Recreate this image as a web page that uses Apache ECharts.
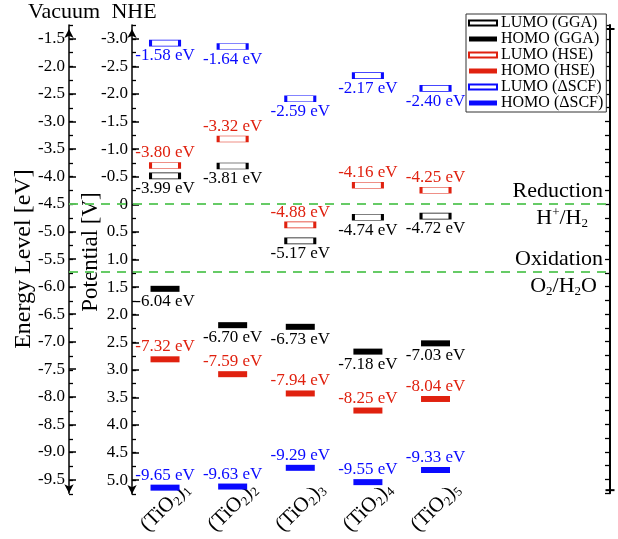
<!DOCTYPE html>
<html>
<head>
<meta charset="utf-8">
<script src="https://cdn.jsdelivr.net/npm/echarts@6/dist/echarts.min.js"></script>
<style>
  html, body { margin: 0; padding: 0; background: #fff; }
  #chart { width: 618px; height: 539px; }
</style>
</head>
<body>
<div id="chart"></div>
<script>
// Cluster sizes on the horizontal axis
const categories = ['(TiO2)1', '(TiO2)2', '(TiO2)3', '(TiO2)4', '(TiO2)5'];

// Frontier orbital energies vs. vacuum [eV]
const lumoGGA = [-3.99, -3.81, -5.17, -4.74, -4.72];
const homoGGA = [-6.04, -6.70, -6.73, -7.18, -7.03];
const lumoHSE = [-3.80, -3.32, -4.88, -4.16, -4.25];
const homoHSE = [-7.32, -7.59, -7.94, -8.25, -8.04];
const lumoSCF = [-1.58, -1.64, -2.59, -2.17, -2.40];
const homoSCF = [-9.65, -9.63, -9.29, -9.55, -9.33];

// Tick labels of the two left scales
const energyTicks = [-9.5, -9.0, -8.5, -8.0, -7.5, -7.0, -6.5, -6.0, -5.5, -5.0,
                     -4.5, -4.0, -3.5, -3.0, -2.5, -2.0, -1.5];
const nheTicks = [-3.0, -2.5, -2.0, -1.5, -1.0, -0.5, 0, 0.5, 1.0, 1.5, 2.0,
                  2.5, 3.0, 3.5, 4.0, 4.5, 5.0];

// Water redox potentials vs. NHE [V]
const redoxPotentials = [0, 1.23];
const redoxUpper = ['Reduction', 'Oxidation'];
const redoxLower = ['H{sup|+}/H{sub|2}', 'O{sub|2}/H{sub|2}O'];

// E(vacuum) = -4.5 eV - V(NHE)
const NHE_ZERO = -4.5;
const toVacuum = v => NHE_ZERO - v;

const E_MIN = -9.75, E_MAX = -1.25;
const V_MIN = -E_MAX + NHE_ZERO;   // top of the potential scale
const V_MAX = -E_MIN + NHE_ZERO;   // bottom of the potential scale

const FONT = '"Liberation Serif", "Times New Roman", serif';
const BLACK = '#000000', RED = '#e0210f', BLUE = '#0a0aff', GREEN = '#5cc85c';

const subRich = {
  sub: { fontSize: 13, lineHeight: 10, verticalAlign: 'bottom', fontFamily: FONT, color: '#000' },
  sup: { fontSize: 13, lineHeight: 10, verticalAlign: 'top', fontFamily: FONT, color: '#000' }
};

function levelSeries(name, values, color, hollow, labelPos) {
  return {
    type: 'scatter',
    name: name,
    xAxisIndex: 0,
    yAxisIndex: 0,
    symbol: 'rect',
    symbolSize: [29, 6],
    itemStyle: hollow
      ? { color: '#ffffff', borderColor: color, borderWidth: 1.4, opacity: 1 }
      : { color: color, opacity: 1 },
    data: values.map((v, i) => [i, v]),
    label: {
      show: true,
      position: labelPos,
      distance: 1,
      color: color,
      fontFamily: FONT,
      fontSize: 17,
      formatter: p => p.value[1].toFixed(2) + ' eV'
    },
    emphasis: { disabled: true },
    silent: true,
    z: 3
  };
}

const redoxLines = [];
redoxPotentials.forEach((v, k) => {
  redoxLines.push({
    yAxis: toVacuum(v),
    label: { position: 'insideEndTop', formatter: redoxUpper[k], distance: [7, 1] }
  });
  redoxLines.push({
    yAxis: toVacuum(v),
    label: { position: 'insideEndBottom', formatter: redoxLower[k],
             distance: k === 0 ? [22, 2] : [13, 2] }
  });
});

const chart = echarts.init(document.getElementById('chart'), null, { renderer: 'canvas' });

// Short 0.25-step ticks, each on its own overlaid grid (the 0.25 steps fall
// on the same heights for both scales, so one range serves both)
const minorAxis = (gridIndex) => ({
  type: 'value',
  gridIndex: gridIndex,
  min: E_MIN,
  max: E_MAX,
  interval: 0.25,
  axisLine: { show: false, onZero: false },
  axisTick: { show: true, inside: true, length: 4, lineStyle: { color: '#000', width: 1.3 } },
  axisLabel: { show: false },
  splitLine: { show: false }
});

const hiddenX = (gridIndex) => ({ type: 'value', gridIndex: gridIndex, show: false, min: 0, max: 1 });

const gridBox = { top: 25, bottom: 45, right: 8, containLabel: false };

chart.setOption({
  animation: false,
  backgroundColor: '#ffffff',
  textStyle: { fontFamily: FONT },
  grid: [
    Object.assign({ left: 69 }, gridBox),   // energy scale, levels, redox lines
    Object.assign({ left: 132 }, gridBox),  // potential (NHE) scale
    Object.assign({ left: 69 }, gridBox),   // energy minor ticks
    Object.assign({ left: 132 }, gridBox)   // potential minor ticks
  ],
  legend: {
    orient: 'vertical',
    left: 466,
    top: 14,
    icon: 'rect',
    itemWidth: 28,
    itemHeight: 5,
    itemGap: 0,
    padding: [1, 3, 1, 2],
    backgroundColor: '#ffffff',
    borderColor: '#333333',
    borderWidth: 1,
    selectedMode: false,
    textStyle: { fontFamily: FONT, fontSize: 16, color: '#000', padding: [0, 0, 0, -1] },
    data: ['LUMO (GGA)', 'HOMO (GGA)', 'LUMO (HSE)', 'HOMO (HSE)', 'LUMO (ΔSCF)', 'HOMO (ΔSCF)'],
    z: 10
  },
  graphic: [
    { type: 'text', x: 64, y: 12, style: { text: 'Vacuum', font: '22px ' + FONT, fill: '#000', align: 'center', verticalAlign: 'middle' } },
    { type: 'text', x: 134, y: 12, style: { text: 'NHE', font: '22px ' + FONT, fill: '#000', align: 'center', verticalAlign: 'middle' } },
    { type: 'text', x: 91, y: 252, rotation: Math.PI / 2,
      style: { text: 'Potential [V]', font: '23px ' + FONT, fill: '#000', align: 'center', verticalAlign: 'middle' } }
  ],
  xAxis: [
    {
      type: 'value',
      gridIndex: 0,
      min: -1.42,
      max: 6.58,
      axisLine: { show: false, onZero: false },
      axisTick: { show: false },
      splitLine: { show: false },
      axisLabel: {
        customValues: categories.map((c, i) => i),
        rotate: 45,
        align: 'center',
        verticalAlign: 'middle',
        margin: 14,
        fontFamily: FONT,
        fontSize: 21,
        lineHeight: 24,
        color: '#000',
        formatter: v => {
          const name = categories[Math.round(v)] || '';
          return name.replace(/^\(TiO2\)(\d+)$/, '(TiO{sub|2}){sub|$1}');
        },
        rich: subRich
      }
    },
    hiddenX(1),
    hiddenX(2),
    hiddenX(3)
  ],
  yAxis: [
    {
      type: 'value',
      gridIndex: 0,
      position: 'left',
      min: E_MIN,
      max: E_MAX,
      axisLine: {
        show: true,
        onZero: false,
        lineStyle: { color: '#000', width: 1.5 },
        symbol: ['arrow', 'arrow'],
        symbolSize: [7, 9],
        symbolOffset: [0, -4]
      },
      axisTick: { show: true, inside: true, length: 7, customValues: energyTicks, lineStyle: { color: '#000', width: 1.5 } },
      axisLabel: { customValues: energyTicks, formatter: v => v.toFixed(1), fontFamily: FONT, fontSize: 17, color: '#000', margin: 4 },
      splitLine: { show: false },
      name: 'Energy Level [eV]',
      nameLocation: 'middle',
      nameGap: 33,
      nameMoveOverlap: false,
      nameTextStyle: { fontFamily: FONT, fontSize: 24, color: '#000' }
    },
    {
      type: 'value',
      gridIndex: 1,
      inverse: true,
      min: V_MIN,
      max: V_MAX,
      axisLine: {
        show: true,
        onZero: false,
        lineStyle: { color: '#000', width: 1.5 },
        symbol: ['arrow', 'arrow'],
        symbolSize: [7, 9],
        symbolOffset: [0, -4]
      },
      axisTick: { show: true, inside: true, length: 7, customValues: nheTicks, lineStyle: { color: '#000', width: 1.5 } },
      axisLabel: { customValues: nheTicks, formatter: v => (v === 0 ? '0' : v.toFixed(1)), fontFamily: FONT, fontSize: 17, color: '#000', margin: 4 },
      splitLine: { show: false }
    },
    minorAxis(2),
    minorAxis(3),
    {
      type: 'value',
      gridIndex: 0,
      position: 'right',
      min: E_MIN,
      max: E_MAX,
      interval: 0.25,
      axisLine: {
        show: true,
        onZero: false,
        lineStyle: { color: '#000', width: 2 },
        symbol: ['rect', 'rect'],
        symbolSize: [9, 2],
        symbolOffset: [3, -4]
      },
      axisTick: { show: true, inside: true, length: 5, lineStyle: { color: '#000', width: 1.3 } },
      axisLabel: { show: false },
      splitLine: { show: false }
    }
  ],
  series: [
    levelSeries('LUMO (GGA)', lumoGGA, BLACK, true, 'bottom'),
    levelSeries('HOMO (GGA)', homoGGA, BLACK, false, 'bottom'),
    levelSeries('LUMO (HSE)', lumoHSE, RED, true, 'top'),
    levelSeries('HOMO (HSE)', homoHSE, RED, false, 'top'),
    levelSeries('LUMO (ΔSCF)', lumoSCF, BLUE, true, 'bottom'),
    levelSeries('HOMO (ΔSCF)', homoSCF, BLUE, false, 'top'),
    {
      type: 'line',
      xAxisIndex: 0,
      yAxisIndex: 0,
      data: [],
      silent: true,
      markLine: {
        silent: true,
        symbol: 'none',
        lineStyle: { color: GREEN, type: [9, 7], width: 1.5 },
        label: {
          fontFamily: FONT,
          fontSize: 22,
          lineHeight: 24,
          color: '#000',
          rich: {
            sub: { fontSize: 13, lineHeight: 10, verticalAlign: 'bottom', fontFamily: FONT, color: '#000' },
            sup: { fontSize: 13, lineHeight: 10, verticalAlign: 'top', fontFamily: FONT, color: '#000' }
          }
        },
        data: redoxLines
      },
      z: 1
    }
  ]
});
</script>
</body>
</html>
